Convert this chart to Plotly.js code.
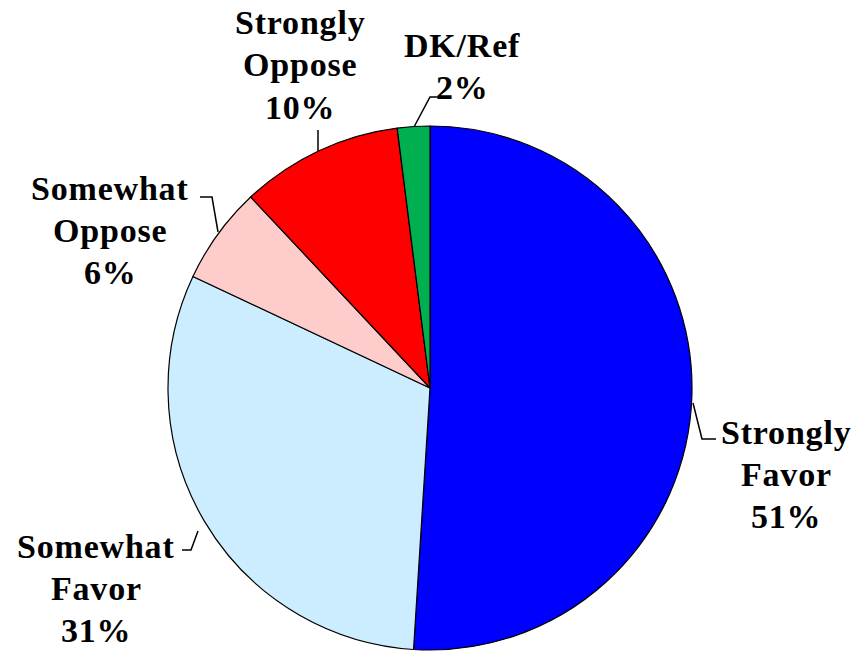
<!DOCTYPE html>
<html>
<head>
<meta charset="utf-8">
<script src="https://cdn.plot.ly/plotly-3.0.1.min.js"></script>
<style>
  html, body { margin: 0; padding: 0; background: #fff; }
  #chart { width: 854px; height: 653px; }
  text.annotation-text { letter-spacing: 0.8px; }
</style>
</head>
<body>
<div id="chart"></div>
<script>
// ---- data ----
const categories = ["Strongly Favor", "Somewhat Favor", "Somewhat Oppose", "Strongly Oppose", "DK/Ref"];
const labelLines = [["Strongly", "Favor"], ["Somewhat", "Favor"], ["Somewhat", "Oppose"], ["Strongly", "Oppose"], ["DK/Ref"]];
const values = [51, 31, 6, 10, 2];
const colors = ["#0000FF", "#CCECFF", "#FFCCCC", "#FF0000", "#00B050"];

// ---- layout helpers (pixel positions for label placement) ----
const W = 854, H = 653;
const px = x => x / W;
const py = y => 1 - y / H;
const LINE_H = 42;

const labelPos = [
  { x: 786, y: 474 },
  { x: 96,  y: 588 },
  { x: 110, y: 230 },
  { x: 300, y: 65 },
  { x: 462, y: 66 }
];
const leaderPaths = [
  [[693, 403], [702, 439], [716, 439]],
  [[182, 550], [191, 550], [198, 531]],
  [[200, 197], [212, 197], [218, 232]],
  [[318, 130], [318, 151]],
  [[414, 127], [430, 97], [444, 97]]
];

const annotations = [];
categories.forEach((c, i) => {
  const lines = labelLines[i].concat([values[i] + "%"]);
  const n = lines.length;
  lines.forEach((t, k) => {
    annotations.push({
      text: t,
      x: px(labelPos[i].x), y: py(labelPos[i].y + (k - (n - 1) / 2) * LINE_H),
      xref: "paper", yref: "paper",
      xanchor: "center", yanchor: "middle",
      showarrow: false,
      font: { family: "serif", size: 34, color: "#000000", weight: "bold" }
    });
  });
});

const shapes = leaderPaths.map(p => ({
  type: "path",
  xref: "paper", yref: "paper",
  path: p.map((pt, k) => (k === 0 ? "M" : "L") + px(pt[0]) + "," + py(pt[1])).join(" "),
  line: { color: "#000", width: 1.5 }
}));

const trace = {
  type: "pie",
  labels: categories,
  values: values,
  sort: false,
  direction: "clockwise",
  rotation: 0,
  textinfo: "none",
  hoverinfo: "none",
  marker: { colors: colors, line: { color: "#000", width: 1.2 } },
  domain: { x: [px(167), px(693)], y: [py(650), py(126)] },
  showlegend: false
};

const layout = {
  width: W, height: H,
  margin: { l: 0, r: 0, t: 0, b: 0 },
  paper_bgcolor: "#fff",
  plot_bgcolor: "#fff",
  showlegend: false,
  annotations: annotations,
  shapes: shapes
};

Plotly.newPlot("chart", [trace], layout, { staticPlot: true, displayModeBar: false });
</script>
</body>
</html>
